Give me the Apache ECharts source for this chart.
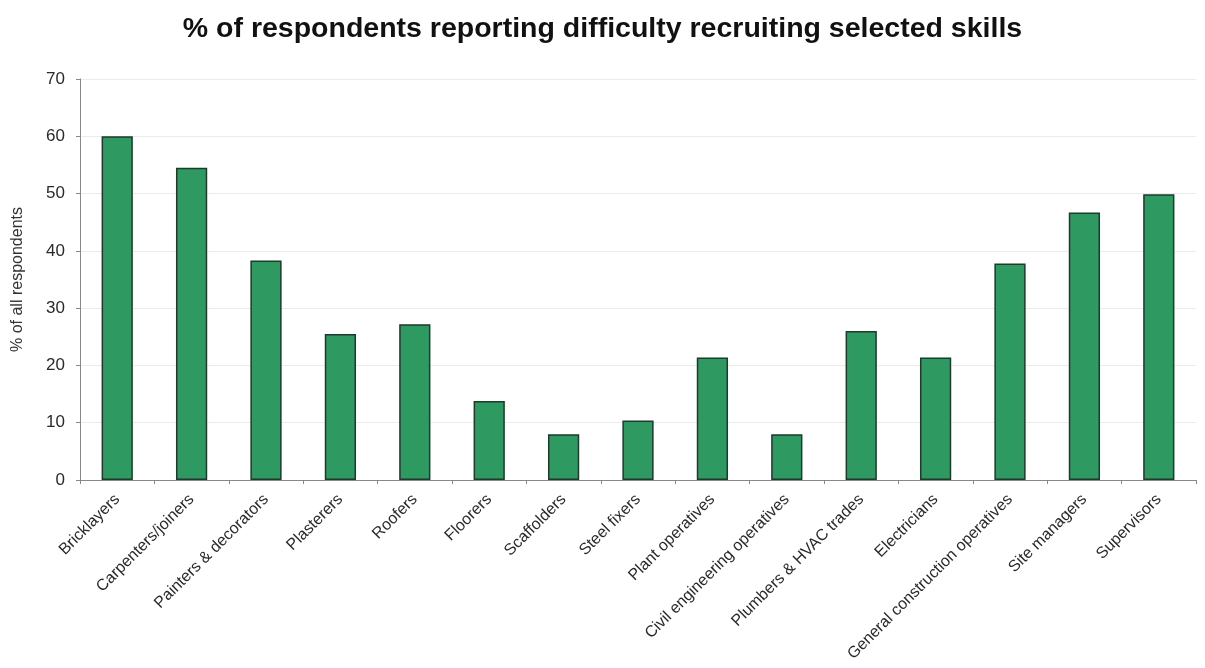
<!DOCTYPE html>
<html>
<head>
<meta charset="utf-8">
<script src="https://cdn.jsdelivr.net/npm/echarts@6/dist/echarts.min.js"></script>
<style>html,body{margin:0;padding:0;background:#fff}#c{width:1205px;height:668px}</style>
</head>
<body>
<div id="c"></div>
<script>
const categories = ["Bricklayers","Carpenters/joiners","Painters & decorators","Plasterers","Roofers","Floorers","Scaffolders","Steel fixers","Plant operatives","Civil engineering operatives","Plumbers & HVAC trades","Electricians","General construction operatives","Site managers","Supervisors"];
const values = [60.0, 54.5, 38.3, 25.5, 27.2, 13.8, 8.0, 10.4, 21.4, 8.0, 26.0, 21.4, 37.8, 46.7, 49.9];
const titleText = "% of respondents reporting difficulty recruiting selected skills";
const yAxisName = "% of all respondents";

const FONT = 'Liberation Sans, Arial, sans-serif';
const chart = echarts.init(document.getElementById('c'), null, {renderer:'canvas'});
chart.setOption({
  animation: false,
  backgroundColor: '#ffffff',
  title: {
    text: titleText, left: 'center', top: 10,
    textStyle: {fontFamily: FONT, fontWeight: 'bold', fontSize: 28.5, color: '#111'}
  },
  grid: {left: 80, right: 9, top: 79, bottom: 188, containLabel: false},
  xAxis: {
    type: 'category', data: categories, boundaryGap: true,
    axisLine: {lineStyle: {color: '#888', width: 1}},
    axisTick: {show: true, alignWithLabel: false, length: 4, lineStyle: {color: '#888'}},
    axisLabel: {rotate: 45, interval: 0, margin: 17, fontSize: 16, color: '#2a2a2a', fontFamily: FONT}
  },
  yAxis: {
    type: 'value', min: 0, max: 70, interval: 10,
    name: yAxisName, nameLocation: 'middle', nameGap: 54, nameRotate: 90,
    nameTextStyle: {fontSize: 16, color: '#333', fontFamily: FONT},
    axisLine: {show: true, lineStyle: {color: '#888', width: 1}},
    axisTick: {show: true, length: 4, lineStyle: {color: '#888'}},
    axisLabel: {fontSize: 17, color: '#2a2a2a', margin: 15, fontFamily: FONT},
    splitLine: {show: true, lineStyle: {color: '#ebebeb', width: 1}}
  },
  series: [{
    type: 'bar', data: values, barWidth: '42%',
    itemStyle: {color: '#2e9a62', borderColor: '#1d3a2a', borderWidth: 1.5}
  }]
});
</script>
</body>
</html>
